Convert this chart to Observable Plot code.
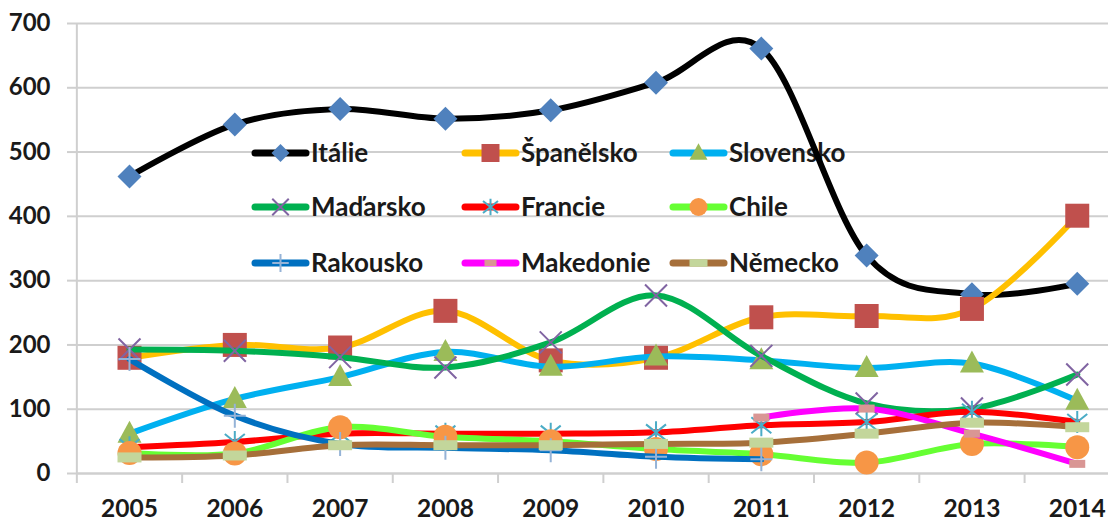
<!DOCTYPE html>
<html>
<head>
<meta charset="utf-8">
<script src="https://cdn.jsdelivr.net/npm/d3@7"></script>
<script src="https://cdn.jsdelivr.net/npm/@observablehq/plot@0.6"></script>
<style>
  html, body { margin: 0; padding: 0; background: #fff; }
  #chart { width: 1108px; height: 522px; overflow: hidden; }
</style>
</head>
<body>
<div id="chart"></div>
<script>
// ---------- data ----------
const years = [2005, 2006, 2007, 2008, 2009, 2010, 2011, 2012, 2013, 2014];
const yTicks = [0, 100, 200, 300, 400, 500, 600, 700];
const seriesNames = ["Itálie", "Španělsko", "Slovensko", "Maďarsko", "Francie", "Chile", "Rakousko", "Makedonie", "Německo"];
const italie    = [462, 543, 567, 552, 565, 608, 661, 339, 279, 295];
const spanelsko = [180, 200, 196, 253, 176, 180, 243, 245, 256, 401];
const slovensko = [62, 116, 150, 189, 166, 182, 176, 164, 171, 113];
const madarsko  = [193, 191, 181, 165, 204, 277, 183, 109, 101, 154];
const francie   = [41, 49, 62, 62, 62, 64, 75, 80, 96, 80];
const chile     = [32, 31, 72, 57, 50, 38, 30, 17, 46, 41];
const rakousko  = [178, 90, 46, 40, 36, 26, 22, null, null, null];
const makedonie = [null, null, null, null, null, null, 87, 101, 62, 15];
const nemecko   = [25, 28, 44, 44, 44, 46, 48, 62, 79, 72];
const seriesValues = [italie, spanelsko, slovensko, madarsko, francie, chile, rakousko, makedonie, nemecko];

// ---------- styles ----------
const lineColors = ["#000000", "#FFC000", "#00B0F0", "#00B050", "#FF0000", "#66FF33", "#0070C0", "#FF00FF", "#A66F3A"];
const markerColors = ["#4F81BD", "#C0504D", "#9BBB59", "#8064A2", "#4BACC6", "#F79646", "#95B3D7", "#D99694", "#C3D69B"];
const markerKinds = ["diamond", "square", "triangle", "times", "asterisk", "circle", "plus", "dashSmall", "dashBig"];
const strokedKinds = new Set(["times", "asterisk", "plus"]);

function drawShape(kind, ctx, s) {
  switch (kind) {
    case "diamond": ctx.moveTo(0, -12*s); ctx.lineTo(12*s, 0); ctx.lineTo(0, 12*s); ctx.lineTo(-12*s, 0); ctx.closePath(); break;
    case "square": ctx.rect(-12*s, -12*s, 24*s, 24*s); break;
    case "triangle": ctx.moveTo(0, -13*s); ctx.lineTo(12*s, 9*s); ctx.lineTo(-12*s, 9*s); ctx.closePath(); break;
    case "times": ctx.moveTo(-11*s, -11*s); ctx.lineTo(11*s, 11*s); ctx.moveTo(11*s, -11*s); ctx.lineTo(-11*s, 11*s); break;
    case "asterisk": ctx.moveTo(0, -11*s); ctx.lineTo(0, 11*s); ctx.moveTo(-10*s, -8*s); ctx.lineTo(10*s, 8*s); ctx.moveTo(10*s, -8*s); ctx.lineTo(-10*s, 8*s); break;
    case "circle": ctx.moveTo(12*s, 0); ctx.arc(0, 0, 12*s, 0, 2*Math.PI); break;
    case "plus": ctx.moveTo(0, -12*s); ctx.lineTo(0, 12*s); ctx.moveTo(-11*s, 0); ctx.lineTo(11*s, 0); break;
    case "dashSmall": ctx.rect(-8*s, -4*s, 16*s, 8*s); break;
    case "dashBig": ctx.rect(-12*s, -5*s, 24*s, 10*s); break;
  }
}
const symbolFor = (kind) => ({ draw(ctx) { drawShape(kind, ctx, 1); } });

// long-format table built from the arrays
const table = [];
seriesNames.forEach((name, i) => {
  years.forEach((yr, j) => {
    const v = seriesValues[i][j];
    if (v != null) table.push({ series: name, year: yr, value: v });
  });
});

const gridGray = "#cfcfcf";
const boundaries = years.map(y => y - 0.5);

// legend render function
function legendMark() {
  const ns = "http://www.w3.org/2000/svg";
  const g = document.createElementNS(ns, "g");
  const colX = [252, 462, 670];
  const rowY = [153, 207, 263];
  seriesNames.forEach((name, i) => {
    const x0 = colX[i % 3], y0 = rowY[Math.floor(i / 3)];
    const line = document.createElementNS(ns, "line");
    line.setAttribute("x1", x0 + 3); line.setAttribute("x2", x0 + 54);
    line.setAttribute("y1", y0); line.setAttribute("y2", y0);
    line.setAttribute("stroke", lineColors[i]); line.setAttribute("stroke-width", 7);
    line.setAttribute("stroke-linecap", "round");
    g.appendChild(line);
    const p = d3.path();
    drawShape(markerKinds[i], p, 0.75);
    const path = document.createElementNS(ns, "path");
    path.setAttribute("d", p.toString());
    path.setAttribute("transform", `translate(${x0 + 28.5},${y0})`);
    if (strokedKinds.has(markerKinds[i])) {
      path.setAttribute("fill", "none"); path.setAttribute("stroke", markerColors[i]); path.setAttribute("stroke-width", 2);
    } else {
      path.setAttribute("fill", markerColors[i]);
    }
    g.appendChild(path);
    const t = document.createElementNS(ns, "text");
    t.setAttribute("x", x0 + 59); t.setAttribute("y", y0);
    t.setAttribute("dy", "0.36em");
    t.setAttribute("text-anchor", "start");
    t.setAttribute("font-size", "26px");
    t.setAttribute("fill", "#1a1a1a");
    t.textContent = name;
    g.appendChild(t);
  });
  return g;
}

const marks = [
  Plot.gridY(yTicks, { stroke: gridGray, strokeOpacity: 1, strokeWidth: 2 }),
  Plot.axisY({ ticks: yTicks, tickSize: 10, tickPadding: 17, stroke: gridGray, strokeWidth: 2, label: null, tickFormat: d => String(d), fontSize: 24 }),
  Plot.ruleX([2004.5], { y1: 0, y2: 700, stroke: gridGray, strokeWidth: 2 }),
  Plot.ruleY([0], { stroke: gridGray, strokeWidth: 2 }),
  Plot.axisX({ ticks: boundaries, tickSize: 10, stroke: gridGray, strokeWidth: 2, tickFormat: () => "", label: null }),
  Plot.axisX({ ticks: years, tickSize: 0, tickPadding: 26, tickFormat: d => String(d), label: null, fontSize: 24.5 }),
  legendMark
];

seriesNames.forEach((name, i) => {
  const data = table.filter(d => d.series === name);
  marks.push(Plot.line(data, {
    x: "year", y: "value", stroke: lineColors[i], strokeWidth: 6,
    curve: "cardinal", tension: 0, strokeLinecap: "round", strokeLinejoin: "round"
  }));
  const stroked = strokedKinds.has(markerKinds[i]);
  marks.push(Plot.dot(data, {
    x: "year", y: "value", symbol: symbolFor(markerKinds[i]), r: 10,
    fill: stroked ? "none" : markerColors[i],
    stroke: stroked ? markerColors[i] : "none",
    strokeWidth: stroked ? 2 : 0
  }));
});

const chart = Plot.plot({
  width: 1108,
  height: 522,
  marginLeft: 77,
  marginRight: 0,
  marginTop: 23,
  marginBottom: 49,
  style: { fontFamily: "Lato, sans-serif", fontSize: "24px", fontWeight: 700, color: "#1a1a1a", background: "#fff", overflow: "hidden" },
  x: { type: "linear", domain: [2004.5, 2014.5], range: [76.35, 1129.4], axis: null },
  y: { domain: [0, 700], axis: null },
  marks
});
document.getElementById("chart").appendChild(chart);
</script>
</body>
</html>
